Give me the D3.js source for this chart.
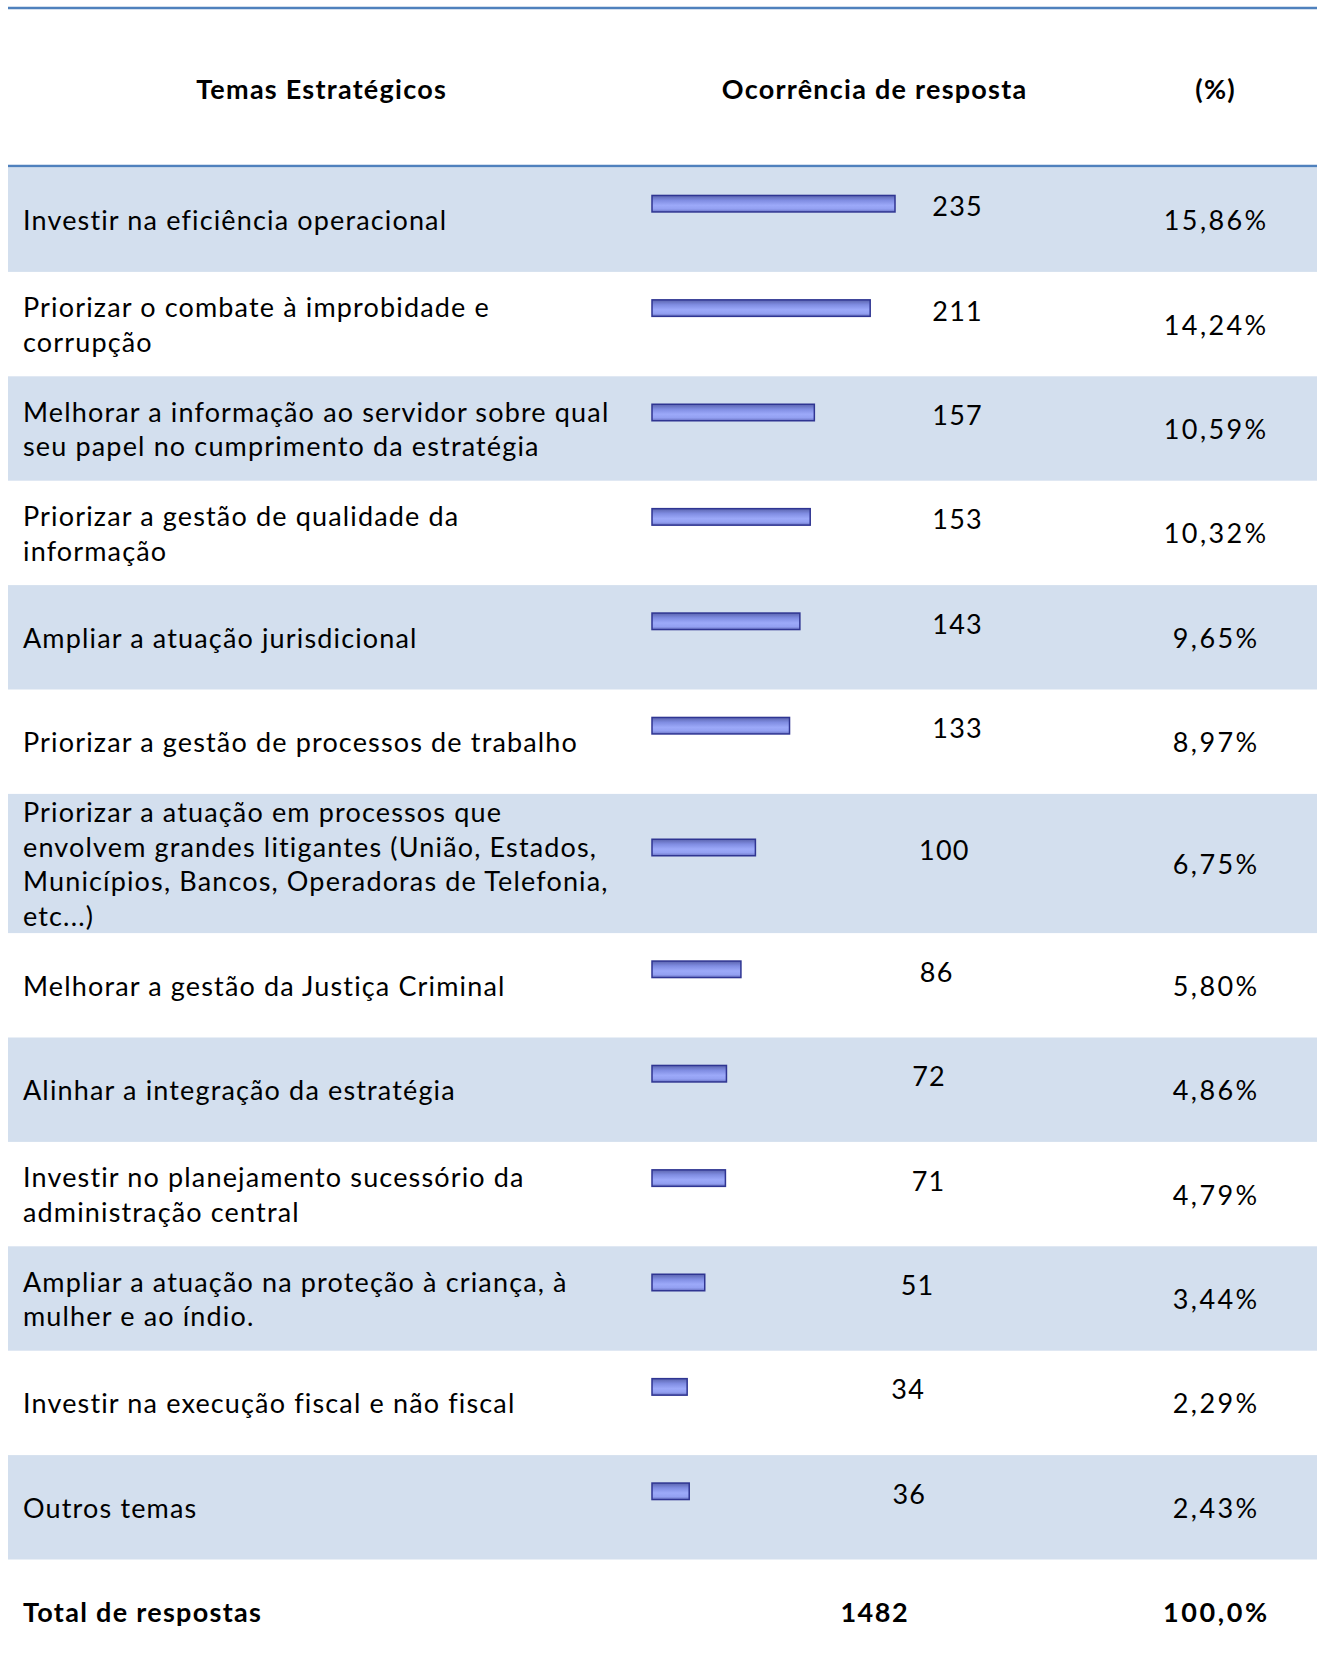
<!DOCTYPE html>
<html>
<head>
<meta charset="utf-8">
<script src="https://cdn.jsdelivr.net/npm/d3@7"></script>
<style>
  html, body { margin: 0; padding: 0; background: #ffffff; }
  svg { display: block; }
</style>
</head>
<body>
<svg id="chart" width="1317" height="1659"></svg>
<script>
// ---- data ----
const headers = ["Temas Estratégicos", "Ocorrência de resposta", "(%)"];
const categories = [
  ["Investir na eficiência operacional"],
  ["Priorizar o combate à improbidade e", "corrupção"],
  ["Melhorar a informação ao servidor sobre qual", "seu papel no cumprimento da estratégia"],
  ["Priorizar a gestão de qualidade da", "informação"],
  ["Ampliar a atuação jurisdicional"],
  ["Priorizar a gestão de processos de trabalho"],
  ["Priorizar a atuação em processos que", "envolvem grandes litigantes (União, Estados,", "Municípios, Bancos, Operadoras de Telefonia,", "etc...)"],
  ["Melhorar a gestão da Justiça Criminal"],
  ["Alinhar a integração da estratégia"],
  ["Investir no planejamento sucessório da", "administração central"],
  ["Ampliar a atuação na proteção à criança, à", "mulher e ao índio."],
  ["Investir na execução fiscal e não fiscal"],
  ["Outros temas"]
];
const counts = [235, 211, 157, 153, 143, 133, 100, 86, 72, 71, 51, 34, 36];
const percents = ["15,86%", "14,24%", "10,59%", "10,32%", "9,65%", "8,97%", "6,75%", "5,80%", "4,86%", "4,79%", "3,44%", "2,29%", "2,43%"];
const totalLabel = "Total de respostas";
const totalCount = "1482";
const totalPercent = "100,0%";

// ---- layout ----
const W = 1317;
const left = 8;
const blue = "#4f81bd";
const band = "#d3dfee";
const fontFamily = "Lato, 'Open Sans', sans-serif";
const fs = 27;
const lsText = 1.15;   // letter spacing for body text
const lsHead = 1.25;   // letter spacing for bold headers
const lsNum = 1.2;     // counts
const lsPct = 2.4;     // percentages
const lineH = 34.8;
const rowTop0 = 167.5;
const baseRowH = 104.4;

const svg = d3.select("#chart");

const defs = svg.append("defs");
const grad = defs.append("linearGradient").attr("id", "barGrad")
  .attr("x1", 0).attr("y1", 0).attr("x2", 0).attr("y2", 1);
[[0, "#5b64ae"], [0.3, "#808de2"], [0.6, "#9ca9f9"], [0.82, "#93a0f2"], [1, "#6770c0"]]
  .forEach(([o, c]) => grad.append("stop").attr("offset", o).attr("stop-color", c));

// row geometry from line counts
const rowH = categories.map(l => Math.max(baseRowH, 34.8 * l.length));
const rowY = [];
rowH.reduce((acc, h, i) => { rowY[i] = acc; return acc + h; }, rowTop0);
const tableBottom = rowY[rowY.length - 1] + rowH[rowH.length - 1];

const rows = categories.map((c, i) => ({
  lines: c, count: counts[i], pct: percents[i], y: rowY[i], h: rowH[i], i
}));

// scales
const barX0 = 652;
const x = d3.scaleLinear().domain([0, d3.max(counts)]).range([barX0, barX0 + 243]);
const labelX = d3.scaleLinear().domain([34, 100]).range([907.6, 943.8]);
const labelCap = 957;
const colText = 23, colCount = 874, colPct = 1215;

// helper for centred letter-spaced text (compensate trailing spacing)
function centred(sel, ls) {
  return sel.attr("text-anchor", "middle").attr("letter-spacing", ls)
    .attr("dx", ls / 2);
}

// top rule and header
svg.append("line").attr("x1", left).attr("x2", W).attr("y1", 8).attr("y2", 8)
  .attr("stroke", blue).attr("stroke-width", 2.5);

const headerX = [321, colCount, colPct];
centred(svg.selectAll("text.hdr").data(headers).join("text")
  .attr("class", "hdr")
  .attr("x", (d, i) => headerX[i]).attr("y", 88), lsHead)
  .attr("dominant-baseline", "central")
  .attr("font-family", fontFamily).attr("font-weight", 700).attr("font-size", fs)
  .attr("fill", "#000").text(d => d);

// bands
svg.selectAll("rect.band").data(rows.filter(r => r.i % 2 === 0)).join("rect")
  .attr("class", "band")
  .attr("x", left).attr("width", W - left)
  .attr("y", d => d.y).attr("height", d => d.h)
  .attr("fill", band);

svg.append("line").attr("x1", left).attr("x2", W).attr("y1", 166).attr("y2", 166)
  .attr("stroke", blue).attr("stroke-width", 2.5);

const g = svg.selectAll("g.row").data(rows).join("g").attr("class", "row");

// category text
g.append("text")
  .attr("font-family", fontFamily).attr("font-size", fs).attr("fill", "#000")
  .attr("letter-spacing", lsText)
  .each(function (d) {
    const t = d3.select(this);
    const cy = d.y + d.h / 2;
    const n = d.lines.length;
    d.lines.forEach((ln, k) => {
      t.append("tspan").attr("x", colText)
        .attr("y", cy + (k - (n - 1) / 2) * lineH)
        .attr("dominant-baseline", "central")
        .text(ln);
    });
  });

// bars
const barH = 16.5;
const barCY = d => d.y + d.h / 2 - 16;
g.append("rect")
  .attr("x", x(0)).attr("y", d => barCY(d) - barH / 2)
  .attr("width", d => x(d.count) - x(0)).attr("height", barH)
  .attr("fill", "url(#barGrad)").attr("stroke", "#2f3592").attr("stroke-width", 1.5);

// count labels
centred(g.append("text")
  .attr("x", d => Math.min(labelCap, labelX(d.count)))
  .attr("y", d => barCY(d) + 2), lsNum)
  .attr("dominant-baseline", "central")
  .attr("font-family", fontFamily).attr("font-size", fs).attr("fill", "#000")
  .text(d => d.count);

// percent labels
centred(g.append("text")
  .attr("x", colPct).attr("y", d => d.y + d.h / 2), lsPct)
  .attr("dominant-baseline", "central")
  .attr("font-family", fontFamily).attr("font-size", fs).attr("fill", "#000")
  .text(d => d.pct);

// total row
const totY = tableBottom + 52;
svg.append("text").attr("x", colText).attr("y", totY)
  .attr("dominant-baseline", "central").attr("letter-spacing", lsHead + 0.05)
  .attr("font-family", fontFamily).attr("font-weight", 700).attr("font-size", fs)
  .text(totalLabel);
centred(svg.append("text").attr("x", colCount).attr("y", totY), 1.5)
  .attr("dominant-baseline", "central")
  .attr("font-family", fontFamily).attr("font-weight", 700).attr("font-size", fs)
  .text(totalCount);
centred(svg.append("text").attr("x", colPct).attr("y", totY), 2.6)
  .attr("dominant-baseline", "central")
  .attr("font-family", fontFamily).attr("font-weight", 700).attr("font-size", fs)
  .text(totalPercent);
</script>
</body>
</html>
